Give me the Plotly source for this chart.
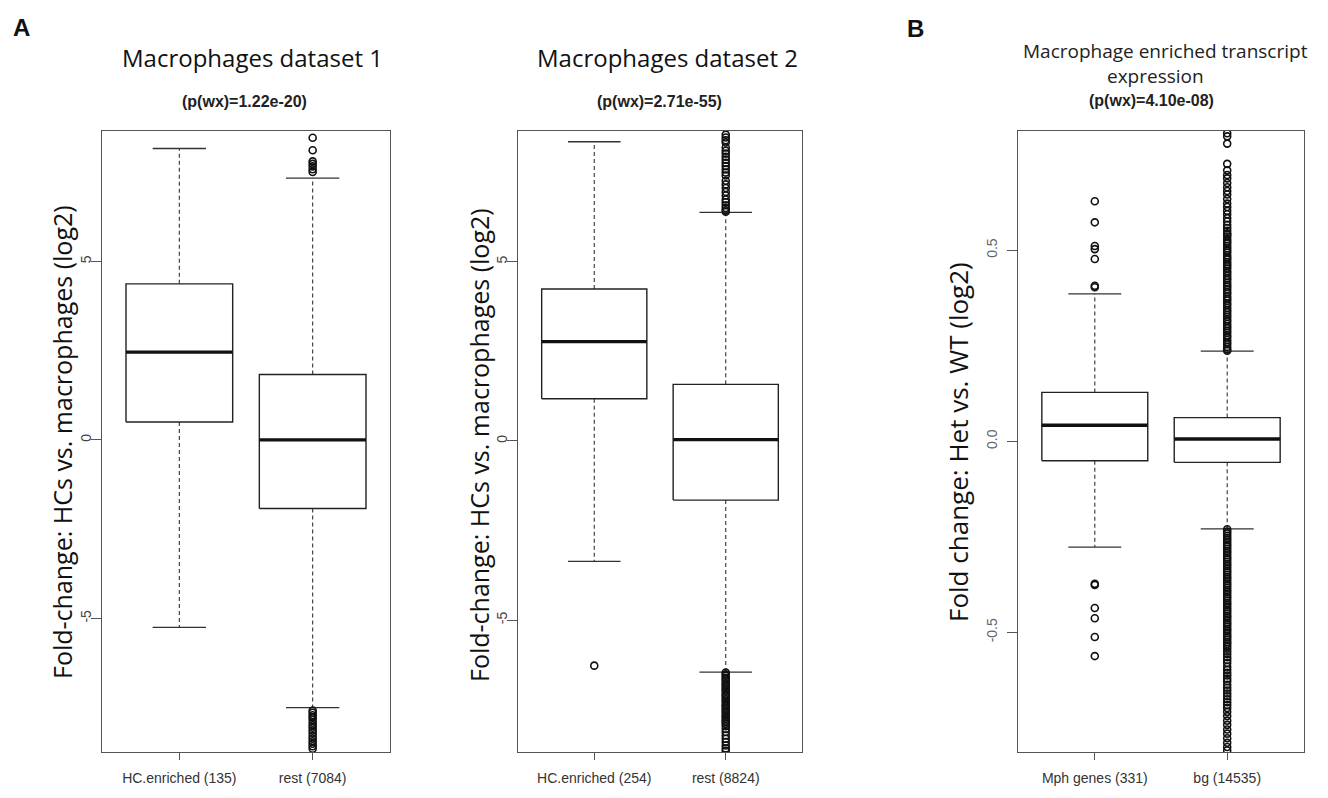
import plotly.graph_objects as go

# page body has an 8px margin; figure is sized to fit the 1328x798 window
OFF = 8
W, H = 1328 - 2 * OFF, 798 - 2 * OFF

# ---------------- data ----------------
# Panel A1: Macrophages dataset 1
p1_groups = ["HC.enriched (135)", "rest (7084)"]
p1_q1 = [0.50, -1.92]
p1_med = [2.46, 0.00]
p1_q3 = [4.37, 1.83]
p1_lo = [-5.25, -7.50]
p1_hi = [8.16, 7.33]
p1_out_hc = []
p1_out_rest = [8.46, 8.11, 7.80, 7.73, 7.66, 7.58, 7.50,
               -7.58, -7.64, -7.71, -7.77, -7.84, -7.92, -7.99, -8.06, -8.14,
               -8.21, -8.29, -8.36, -8.44, -8.51, -8.58, -8.65]

# Panel A2: Macrophages dataset 2
p2_groups = ["HC.enriched (254)", "rest (8824)"]
p2_q1 = [1.18, -1.65]
p2_med = [2.77, 0.04]
p2_q3 = [4.24, 1.58]
p2_lo = [-3.36, -6.45]
p2_hi = [8.35, 6.38]
p2_out_hc = [-6.27]
p2_out_rest = [8.55, 8.47, 8.39, 8.33, 8.19, 8.10, 8.02, 7.93, 7.85, 7.76, 7.67,
               7.58, 7.49, 7.41, 7.26, 7.16, 7.06, 6.95, 6.85, 6.74, 6.66, 6.58,
               6.50, 6.44, 6.40,
               -6.46, -6.51, -6.55, -6.61, -6.65, -6.70, -6.76, -6.80, -6.85,
               -6.91, -6.95, -7.00, -7.06, -7.10, -7.15, -7.21, -7.25, -7.30,
               -7.36, -7.40, -7.45, -7.51, -7.55, -7.60, -7.66, -7.70, -7.75,
               -7.81, -7.85, -7.90, -7.96, -8.04, -8.12, -8.22, -8.31, -8.40,
               -8.50, -8.58, -8.65]

# Panel B: Macrophage enriched transcript expression
p3_groups = ["Mph genes (331)", "bg (14535)"]
p3_q1 = [-0.051, -0.055]
p3_med = [0.042, 0.006]
p3_q3 = [0.128, 0.062]
p3_lo = [-0.277, -0.229]
p3_hi = [0.386, 0.236]
p3_out_mph = [0.628, 0.573, 0.511, 0.503, 0.477, 0.407, 0.403,
              -0.373, -0.376, -0.436, -0.463, -0.512, -0.562]
p3_out_bg = [0.806, 0.798, 0.779, 0.726, 0.709, 0.697, 0.688, 0.676, 0.665,
             0.655, 0.646, 0.634, 0.622, 0.613, 0.603, 0.594, 0.584, 0.575,
             0.566, 0.558, 0.551, 0.544,
             0.541, 0.536, 0.529, 0.523, 0.518, 0.511, 0.505, 0.499, 0.494,
             0.487, 0.481, 0.476, 0.469, 0.463, 0.458, 0.452, 0.445, 0.440,
             0.433, 0.427, 0.422, 0.415, 0.409, 0.404, 0.398, 0.391, 0.386,
             0.379, 0.373, 0.368, 0.361, 0.356, 0.349, 0.343, 0.338, 0.331,
             0.326, 0.319, 0.314, 0.307, 0.301, 0.296, 0.289, 0.284, 0.277,
             0.272, 0.265, 0.259, 0.254, 0.247, 0.241, 0.237,
             -0.230, -0.236, -0.241, -0.247, -0.253, -0.258, -0.264, -0.270,
             -0.275, -0.281, -0.287, -0.292, -0.298, -0.304, -0.309, -0.315,
             -0.321, -0.326, -0.332, -0.338, -0.343, -0.349, -0.355, -0.360,
             -0.366, -0.372, -0.377, -0.383, -0.389, -0.394, -0.400, -0.406,
             -0.411, -0.417, -0.423, -0.428, -0.434, -0.440, -0.445, -0.451,
             -0.457, -0.462, -0.468, -0.474, -0.479, -0.485, -0.491, -0.496,
             -0.502, -0.508, -0.513, -0.519, -0.525, -0.530, -0.536,
             -0.543, -0.550, -0.557, -0.565, -0.572, -0.580, -0.590, -0.598,
             -0.606, -0.613, -0.621, -0.628, -0.637, -0.645, -0.652, -0.660,
             -0.667, -0.675, -0.683, -0.690, -0.698, -0.708, -0.719, -0.731,
             -0.742, -0.754, -0.765, -0.777, -0.789, -0.800, -0.809]

panels = [
    dict(groups=p1_groups, q1=p1_q1, med=p1_med, q3=p1_q3, lo=p1_lo, hi=p1_hi,
         outs=[p1_out_hc, p1_out_rest], yrange=[-8.74, 8.65],
         ytick=[-5, 0, 5], yticktext=["-5", "0", "5"],
         xdom=[102, 390], standoff=-6, tcol="#444444"),
    dict(groups=p2_groups, q1=p2_q1, med=p2_med, q3=p2_q3, lo=p2_lo, hi=p2_hi,
         outs=[p2_out_hc, p2_out_rest], yrange=[-8.68, 8.65],
         ytick=[-5, 0, 5], yticktext=["-5", "0", "5"],
         xdom=[518, 802], standoff=-6, tcol="#444444"),
    dict(groups=p3_groups, q1=p3_q1, med=p3_med, q3=p3_q3, lo=p3_lo, hi=p3_hi,
         outs=[p3_out_mph, p3_out_bg], yrange=[-0.813, 0.812],
         ytick=[-0.5, 0.0, 0.5], yticktext=["-0.5", "0.0", "0.5"],
         xdom=[1018, 1304], standoff=4, tcol="#666666"),
]


def fx(px):
    return (px - OFF) / W


def fy(py):
    return 1 - (py - OFF) / H


BOXW = 0.4   # half box width (R boxwex 0.8)
CAPW = 0.2   # half staple width
LINEC = "#222222"
FRAMEC = "#555555"

fig = go.Figure()
layout = dict(width=W, height=H, margin=dict(l=0, r=0, t=0, b=0),
              paper_bgcolor="white", plot_bgcolor="white", showlegend=False)

ydom = [fy(752), fy(131)]

for i, p in enumerate(panels, start=1):
    xa = "x" if i == 1 else f"x{i}"
    ya = "y" if i == 1 else f"y{i}"
    for j in range(2):
        c = j + 1
        q1, md, q3, lo, hi = p["q1"][j], p["med"][j], p["q3"][j], p["lo"][j], p["hi"][j]
        # dashed whiskers
        fig.add_trace(go.Scatter(x=[c, c, None, c, c], y=[q3, hi, None, q1, lo],
                                 mode="lines", xaxis=xa, yaxis=ya,
                                 line=dict(color="#333333", width=1.1, dash="4px,3px"),
                                 hoverinfo="skip"))
        # caps
        fig.add_trace(go.Scatter(x=[c - CAPW, c + CAPW, None, c - CAPW, c + CAPW],
                                 y=[hi, hi, None, lo, lo],
                                 mode="lines", xaxis=xa, yaxis=ya,
                                 line=dict(color="#333333", width=1.3), hoverinfo="skip"))
        # box
        fig.add_trace(go.Scatter(x=[c - BOXW, c + BOXW, c + BOXW, c - BOXW, c - BOXW],
                                 y=[q1, q1, q3, q3, q1], mode="lines",
                                 fill="toself", fillcolor="white",
                                 xaxis=xa, yaxis=ya,
                                 line=dict(color=LINEC, width=1.4), hoverinfo="skip"))
        # median
        fig.add_trace(go.Scatter(x=[c - BOXW, c + BOXW], y=[md, md], mode="lines",
                                 xaxis=xa, yaxis=ya,
                                 line=dict(color="#111111", width=3.3), hoverinfo="skip"))
        # outliers
        o = p["outs"][j]
        if o:
            fig.add_trace(go.Scatter(x=[c] * len(o), y=o, mode="markers",
                                     xaxis=xa, yaxis=ya,
                                     marker=dict(symbol="circle-open", size=7,
                                                 color="#111111", line=dict(width=1.6)),
                                     hoverinfo="skip"))
    xkey = "xaxis" if i == 1 else f"xaxis{i}"
    ykey = "yaxis" if i == 1 else f"yaxis{i}"
    layout[xkey] = dict(domain=[fx(p["xdom"][0]), fx(p["xdom"][1])], anchor=ya,
                        range=[0.42, 2.58], tickmode="array", tickvals=[1, 2],
                        ticktext=p["groups"], ticks="outside", ticklen=7,
                        tickcolor=FRAMEC, tickwidth=1.2,
                        ticklabelstandoff=6,
                        showline=True, mirror=True, linecolor=FRAMEC, linewidth=1.3,
                        showgrid=False, zeroline=False,
                        tickfont=dict(family="Liberation Sans, Arial", size=14,
                                      color="#333333"))
    layout[ykey] = dict(domain=ydom, anchor=xa, range=p["yrange"], tickmode="array",
                        tickvals=p["ytick"], ticktext=p["yticktext"], tickangle=-90,
                        ticks="outside", ticklen=10, tickcolor=FRAMEC, tickwidth=1.2,
                        ticklabelstandoff=p["standoff"],
                        showline=True, mirror=True, linecolor=FRAMEC, linewidth=1.3,
                        showgrid=False, zeroline=False,
                        tickfont=dict(family="Liberation Sans, Arial", size=14,
                                      color=p["tcol"]))

fig.update_layout(**layout)


def ann(text, px, py, size, family, color="#111111", angle=0, bold=False):
    if bold:
        text = f"<b>{text}</b>"
    fig.add_annotation(text=text, x=fx(px), y=fy(py), xref="paper", yref="paper",
                       xanchor="center", yanchor="middle", showarrow=False,
                       textangle=angle,
                       font=dict(size=size, family=family, color=color))


ann("A", 21, 27, 24, "Liberation Sans, Arial", bold=True)
ann("B", 916, 29, 24, "Liberation Sans, Arial", bold=True)
ann("Macrophages dataset 1", 252, 57, 24, "Open Sans")
ann("(p(wx)=1.22e-20)", 244, 102, 16, "Liberation Sans, Arial", color="#222222", bold=True)
ann("Macrophages dataset 2", 667, 57, 24, "Open Sans")
ann("(p(wx)=2.71e-55)", 659, 102, 16, "Liberation Sans, Arial", color="#222222", bold=True)
ann("Macrophage enriched transcript", 1165, 51, 19, "Open Sans", color="#222222")
ann("expression", 1155, 76, 19, "Open Sans", color="#222222")
ann("(p(wx)=4.10e-08)", 1151, 100, 16, "Liberation Sans, Arial", color="#222222", bold=True)
ann("Fold-change: HCs vs. macrophages (log2)", 62, 442, 25, "Open Sans", angle=-90)
ann("Fold-change: HCs vs. macrophages (log2)", 479, 445, 25, "Open Sans", angle=-90)
ann("Fold change: Het vs. WT (log2)", 958, 442, 26, "Open Sans", angle=-90)

fig.write_html("out.html")
